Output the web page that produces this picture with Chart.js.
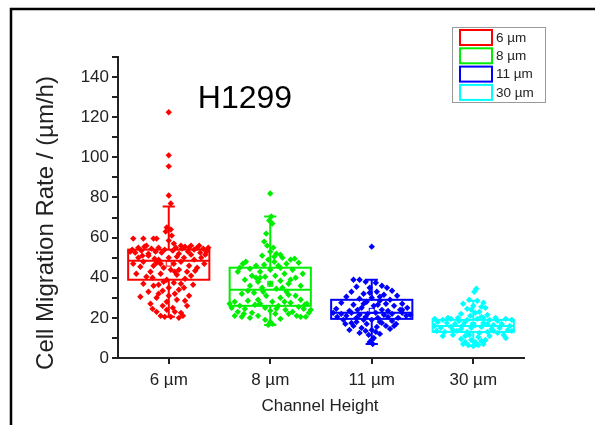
<!DOCTYPE html>
<html>
<head>
<meta charset="utf-8">
<script src="https://cdn.jsdelivr.net/npm/chart.js@4"></script>
<style>
html,body{margin:0;padding:0;background:#fff;}
#wrap{width:595px;height:425px;}
</style>
</head>
<body>
<div id="wrap"><canvas id="c" width="595" height="425"></canvas></div>
<script>
// ---- Data ----
const categories = ['6 µm', '8 µm', '11 µm', '30 µm'];
const seriesColors = ['#ff0000', '#00ee00', '#0000ff', '#00ffff'];
const q1 = [39, 26, 19.5, 13];
const median = [48.5, 34, 22.5, 16];
const q3 = [54, 45, 29, 19];
const whiskerLow = [20.5, 16.5, 7, 6];
const whiskerHigh = [75.5, 70.5, 39, 28.5];
const means = [47, 37, 23.5, 16.5];
const yTickValues = [0, 20, 40, 60, 80, 100, 120, 140];

// points: [x jitter offset within category, migration rate]
const pts6 = [[0,122.5],[0,101],[0,95.5],[0,81],[0.02,77],[-0.02,65],[0.02,64],[-0.03,63],[0.03,61],[0,58.5],[-0.35,59.5],[-0.25,59.5],[-0.15,59.5],[-0.12,59.5],[0.05,57],
[-0.38,53],[-0.36,54],[-0.33,52.5],[-0.3,55],[-0.27,53.5],[-0.24,55.5],[-0.2,52],[-0.17,54.5],[-0.13,53],[-0.1,55],[-0.07,52.5],[-0.04,54],[0.04,53.5],[0.07,55],[0.1,52],[0.13,54.5],[0.16,55.5],[0.19,53],[0.22,56],[0.25,54],[0.28,55],[0.31,52.5],[0.34,54.5],[0.37,53],[0.39,55],[0.36,51.5],[0.3,56],[0.2,55],[-0.22,56],[0.12,56],
[-0.3,50],[-0.25,48],[-0.2,51],[-0.15,46],[-0.1,49],[-0.05,45],[0,50],[0.05,47],[0.1,44],[0.15,50],[0.2,46],[0.25,49],[-0.28,45.5],[-0.18,43],[-0.08,42],[0.08,41.5],[0.18,43],[0.28,45],[0.22,41],[-0.22,40.5],[-0.12,47.5],[0.02,44],[0.12,48],[-0.02,39],[0.32,50],[-0.35,47],[0.35,47],
[-0.25,37],[-0.15,36],[-0.05,38],[0.05,37.5],[0.15,35],[-0.2,33],[-0.1,32],[0.1,34],[0.2,31],[-0.12,30],[-0.02,28],[0.08,29],[-0.18,27],[0.18,26],[-0.06,26],[0.04,25],[-0.12,23],[0.12,22.5],[-0.08,21],[-0.04,20.5],[0.02,20.5],[0.1,20],[0.14,21],[0,35],[0,31],[-0.02,24],[0.24,36.5],[-0.28,30.5],[0.06,32],
[-0.32,42],[-0.16,40],[0.06,43],[0.16,39.5],[0.26,43.5],[-0.08,47],[0.08,50.5],[-0.26,51],[0.22,51.5],[-0.14,49.5],[-0.1,36.5],[0.12,37],[-0.16,24.5],[0.06,23],[0.16,28.5],[-0.06,33.5]];

const pts8 = [[0,82],[0.01,70.5],[-0.01,68.5],[0.02,67],[-0.04,62],[-0.06,58],[-0.03,56],[0.03,55],[0,53],[0.06,52],[0.1,51.5],[-0.08,51],[0.04,50.5],[0.12,50],[-0.02,49],[0.2,49],[0.24,49.5],[-0.24,48],[-0.27,47],[-0.3,45],[-0.2,44.5],[-0.14,46],[0.08,46],[0.16,47],[0.28,47.5],[-0.1,43],[0,44],[0.14,42],[0.22,44],[-0.18,41],[-0.05,40.5],[0.05,41],[0.25,40],[-0.25,39],[-0.12,38],[0.1,38.5],[0.18,37],[-0.2,36],[0,37],[0.3,36],[-0.08,35],[0.06,34.5],[0.16,33],[-0.16,32.5],[-0.28,32],[0.25,31],[-0.04,31],[0.1,30],[-0.12,29],[0.3,29],[-0.35,28],[-0.22,28.5],[0.02,28],[0.2,27.5],[0.36,27],[-0.3,26],[-0.15,26.5],[0.08,26],[0.28,25.5],[-0.38,25],[-0.25,24.5],[-0.05,25],[0.15,24],[0.33,24.5],[-0.32,23],[-0.18,22.5],[0,23.5],[0.22,23],[0.38,22.5],[-0.35,21],[-0.28,20.5],[-0.12,21],[0.05,22],[0.26,21],[0.3,20.5],[0.35,20.5],[-0.05,19],[0,18],[0.02,17],[-0.02,16.5],[0.1,19.5],[-0.2,20],[0.4,24],[-0.4,27],[0.12,35],[-0.1,40],[0.32,42],[-0.32,43],[0.18,31.5],[-0.07,33],
[0.04,48],[-0.06,46.5],[0.1,45],[-0.14,40],[0.2,39],[-0.22,33.5],[0.14,28],[-0.1,27],[0.06,24.5],[-0.26,22],[0.18,22],[0.34,26.5]];

const pts11 = [[0,55.5],[-0.18,39],[-0.12,39],[-0.06,38],[0.04,37.5],[0.1,36],[0.15,35],[-0.15,35.5],[-0.02,35],[0.2,33.5],[-0.2,33],[0.05,33],[-0.08,32],[0.12,31.5],[0.25,31],[-0.25,30.5],[0,30],[-0.12,29.5],[0.18,29],[0.08,28.5],[-0.05,28],[0.3,27],[-0.3,27.5],[0.14,27],[-0.18,26.5],[0.22,26],[0.02,26],[-0.1,25],[0.35,25],[-0.35,24.5],[0.28,24],[0.1,24],[-0.22,23.5],[-0.38,22.5],[-0.3,22],[-0.2,22.5],[-0.12,21.5],[-0.04,22],[0.04,22.5],[0.12,21.5],[0.2,22],[0.3,22.5],[0.38,21.5],[-0.34,20.5],[-0.25,21],[-0.15,20],[-0.06,20.5],[0.06,20],[0.16,20.5],[0.26,20],[0.34,21],[-0.28,19],[0,19],[0.2,18.5],[-0.15,18],[0.1,17.5],[-0.05,17],[0.14,16],[-0.18,16],[0.05,15.5],[-0.1,15],[0.18,14.5],[-0.22,14],[0,14],[-0.12,12.5],[0.08,12],[-0.03,11.5],[0.02,10],[0,9],[-0.02,8],[0.01,7],[0.24,17],[-0.26,17],[0.3,24],[-0.08,27],[0.08,30.5],
[-0.02,32.5],[0.06,26.5],[-0.14,24],[0.16,23.5],[-0.08,19],[0.08,18],[-0.2,17.5],[0.22,16],[-0.06,13.5],[0.04,13]];

const pts30 = [[0.03,34.5],[0.01,33],[-0.04,29],[0.04,28.5],[0.1,27.5],[-0.1,27],[0,26],[0.12,25],[-0.06,24.5],[0.06,23],[-0.12,22],[0.02,22.5],[0.14,21.5],[-0.03,21],[0.08,20.5],[-0.38,19.5],[-0.3,19],[-0.22,19.5],[-0.14,18.5],[-0.06,19],[0.04,19.5],[0.16,19],[0.24,18.5],[0.32,19.5],[0.38,19],[-0.35,18],[-0.26,17.5],[-0.18,17],[-0.1,16.5],[0,17],[0.1,17.5],[0.2,16.5],[0.28,17],[0.36,16],[-0.38,16],[-0.32,15],[-0.22,15.5],[-0.12,14.5],[-0.02,15],[0.08,15.5],[0.18,14.5],[0.26,15],[0.34,14],[-0.36,13.5],[-0.28,13],[-0.16,13.5],[-0.06,13],[0.06,12.5],[0.14,13],[0.24,12.5],[0.38,13.5],[-0.2,11.5],[-0.08,11],[0.05,10.5],[0.16,11],[0.3,11.5],[-0.12,9.5],[-0.02,9],[0.08,8.5],[-0.1,7],[-0.05,6.5],[0,6],[0.05,6.5],[0.1,7],[0.12,9],[-0.15,20],[0.1,20],[0.22,20],[-0.25,20],[0.32,10],[-0.3,11],
[-0.02,24],[0.08,25.5],[-0.08,18],[0.14,17],[-0.2,14],[0.2,13.5],[-0.04,11.5],[0.02,8],[-0.08,8]];

const allPoints = [pts6, pts8, pts11, pts30];
const boxHalfWidth = 0.4;
const capHalfWidth = 0.06;

const FONT = "'Liberation Sans', Arial, sans-serif";

const datasets = allPoints.map((pts, i) => ({
  type: 'scatter',
  label: categories[i],
  data: pts.map(([dx, y]) => ({x: i + 1 + dx, y: y})),
  backgroundColor: seriesColors[i],
  borderColor: seriesColors[i],
  pointStyle: 'rectRot',
  pointRadius: 3.2,
  pointBorderWidth: 0,
  pointHoverRadius: 3.2
}));

const boxPlugin = {
  id: 'boxes',
  afterDatasetsDraw(chart) {
    const ctx = chart.ctx;
    const xs = chart.scales.x, ys = chart.scales.y;
    ctx.save();
    categories.forEach((c, i) => {
      const cx = i + 1;
      const xl = xs.getPixelForValue(cx - boxHalfWidth);
      const xr = xs.getPixelForValue(cx + boxHalfWidth);
      const xc = xs.getPixelForValue(cx);
      const cl = xs.getPixelForValue(cx - capHalfWidth);
      const cr = xs.getPixelForValue(cx + capHalfWidth);
      const yq1 = ys.getPixelForValue(q1[i]);
      const yq3 = ys.getPixelForValue(q3[i]);
      const ymed = ys.getPixelForValue(median[i]);
      const ylo = ys.getPixelForValue(whiskerLow[i]);
      const yhi = ys.getPixelForValue(whiskerHigh[i]);
      const ymean = ys.getPixelForValue(means[i]);
      ctx.strokeStyle = seriesColors[i];
      ctx.lineWidth = 2;
      ctx.strokeRect(xl, yq3, xr - xl, yq1 - yq3);
      ctx.beginPath();
      ctx.moveTo(xl, ymed); ctx.lineTo(xr, ymed);
      ctx.moveTo(xc, yq3); ctx.lineTo(xc, yhi);
      ctx.moveTo(xc, yq1); ctx.lineTo(xc, ylo);
      ctx.moveTo(cl, yhi); ctx.lineTo(cr, yhi);
      ctx.moveTo(cl, ylo); ctx.lineTo(cr, ylo);
      ctx.stroke();
      ctx.lineWidth = 1;
      ctx.strokeRect(xc - 2.5, ymean - 2.5, 5, 5);
    });
    ctx.restore();
  },
  afterDraw(chart) {
    const ctx = chart.ctx;
    ctx.save();
    // frame
    ctx.strokeStyle = '#000';
    ctx.lineWidth = 2.5;
    ctx.beginPath();
    ctx.moveTo(11, 425); ctx.lineTo(11, 9); ctx.lineTo(595, 9);
    ctx.stroke();
    // title
    ctx.fillStyle = '#000';
    ctx.font = '32px ' + FONT;
    ctx.textAlign = 'center';
    ctx.textBaseline = 'alphabetic';
    ctx.fillText('H1299', 245, 108);
    // y axis title
    ctx.fillStyle = '#222';
    ctx.save();
    ctx.translate(46, 223);
    ctx.rotate(-Math.PI / 2);
    ctx.font = '24px ' + FONT;
    ctx.textBaseline = 'middle';
    ctx.fillText('Cell Migration Rate / (µm/h)', 0, 0);
    ctx.restore();
    // x axis title
    ctx.font = '17px ' + FONT;
    ctx.textAlign = 'center';
    ctx.textBaseline = 'middle';
    ctx.fillText('Channel Height', 320, 406);
    // legend
    ctx.strokeStyle = '#999';
    ctx.lineWidth = 1;
    ctx.strokeRect(452.5, 27.5, 93, 75);
    ctx.font = '13.5px ' + FONT;
    ctx.textAlign = 'left';
    categories.forEach((c, i) => {
      const y = 30 + i * 18.3;
      ctx.strokeStyle = seriesColors[i];
      ctx.lineWidth = 2;
      ctx.strokeRect(460, y, 32, 15);
      ctx.fillStyle = '#222';
      ctx.fillText(c, 496, y + 8);
    });
    ctx.restore();
  }
};

new Chart(document.getElementById('c'), {
  type: 'scatter',
  data: {datasets: datasets},
  options: {
    responsive: false,
    animation: false,
    events: [],
    layout: {padding: {top: 57, right: 71, left: 0, bottom: 0}},
    plugins: {legend: {display: false}, tooltip: {enabled: false}},
    scales: {
      x: {
        type: 'linear', min: 0.5, max: 4.5,
        afterBuildTicks: s => { s.ticks = categories.map((c, i) => ({value: i + 1})); },
        afterFit: s => { s.height = 67; },
        ticks: {
          callback: v => categories[Math.round(v) - 1],
          font: {size: 17, family: FONT}, color: '#222', padding: 6, maxRotation: 0
        },
        grid: {drawOnChartArea: false, drawTicks: true, tickLength: 6, color: '#222', lineWidth: 2},
        border: {color: '#222', width: 2}
      },
      y: {
        min: 0, max: 150,
        afterBuildTicks: s => {
          const t = [];
          for (let v = 0; v <= 150; v += 10) t.push({value: v});
          s.ticks = t;
        },
        afterFit: s => { s.width = 118; },
        ticks: {
          callback: v => yTickValues.includes(v) ? String(v) : '',
          font: {size: 17, family: FONT}, color: '#222', padding: 3, autoSkip: false
        },
        grid: {drawOnChartArea: false, drawTicks: true, tickLength: 6, color: '#222', lineWidth: 2},
        border: {color: '#222', width: 2}
      }
    }
  },
  plugins: [boxPlugin]
});
</script>
</body>
</html>
